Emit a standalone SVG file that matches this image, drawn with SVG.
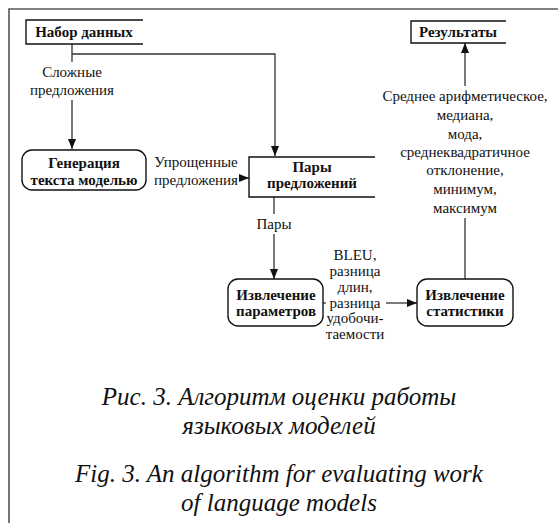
<svg xmlns="http://www.w3.org/2000/svg" width="558" height="525" viewBox="0 0 558 525" font-family="Liberation Serif, Times New Roman, serif">
<defs>
<marker id="ah" viewBox="0 0 10 8" refX="10" refY="4" markerWidth="10" markerHeight="8" markerUnits="userSpaceOnUse" orient="auto">
<path d="M0,0 L10,4 L0,8 Z" fill="#111"/>
</marker>
<style>
.frame{fill:none;stroke:#555;stroke-width:1.6}
.box{fill:#fff;stroke:#111;stroke-width:1.4}
.store{fill:none;stroke:#111;stroke-width:1.4}
.conn{fill:none;stroke:#333;stroke-width:1.3}
text{fill:#111;text-anchor:middle}
.b{font-weight:bold;font-size:15px}
.t{font-size:15px}
.cap{font-style:italic;font-size:25px}
</style>
</defs>
<rect width="558" height="525" fill="#fff"/>
<path class="frame" d="M558,9 H9 V523"/>

<g id="connectors">
<path class="conn" d="M72,44 V62"/>
<path class="conn" d="M72,100 V149" marker-end="url(#ah)"/>
<path class="conn" d="M72,54 H275 V156" marker-end="url(#ah)"/>
<path class="conn" d="M241,178 H249" marker-end="url(#ah)"/>
<path class="conn" d="M274,197 V214"/>
<path class="conn" d="M274,234 V279" marker-end="url(#ah)"/>
<path class="conn" d="M323,303 H326"/>
<path class="conn" d="M386,303 H417" marker-end="url(#ah)"/>
<path class="conn" d="M465,279 V218"/>
<path class="conn" d="M465,86 V43" marker-end="url(#ah)"/>
<text class="t" x="72" y="77">Сложные</text>
<text class="t" x="72" y="95">предложения</text>
<text class="t" x="196" y="167">Упрощенные</text>
<text class="t" x="196" y="185">предложения</text>
<text class="t" x="274" y="229">Пары</text>
<text class="t" x="355" y="260">BLEU,</text>
<text class="t" x="355" y="276">разница</text>
<text class="t" x="355" y="292">длин,</text>
<text class="t" x="355" y="308">разница</text>
<text class="t" x="355" y="323">удобочи-</text>
<text class="t" x="355" y="339">таемости</text>
<text class="t" x="465" y="101">Среднее арифметическое,</text>
<text class="t" x="465" y="120">медиана,</text>
<text class="t" x="465" y="139">мода,</text>
<text class="t" x="465" y="157">среднеквадратичное</text>
<text class="t" x="465" y="175">отклонение,</text>
<text class="t" x="465" y="194">минимум,</text>
<text class="t" x="465" y="213">максимум</text>
</g>

<g id="dataset">
<path class="store" d="M143,20 H26 V44 H143"/>
<text class="b" x="84" y="37">Набор данных</text>
</g>

<g id="results">
<path class="store" d="M506,21 H411 V43 H506"/>
<text class="b" x="458" y="37">Результаты</text>
</g>

<g id="generation">
<rect class="box" x="22" y="150" width="124" height="40" rx="10"/>
<text class="b" x="84" y="168">Генерация</text>
<text class="b" x="84" y="185">текста моделью</text>
</g>

<g id="pairs">
<path class="store" d="M375,157 H249 V197 H375"/>
<text class="b" x="312" y="172">Пары</text>
<text class="b" x="312" y="188">предложений</text>
</g>

<g id="params">
<rect class="box" x="228" y="279" width="95" height="47" rx="10"/>
<text class="b" x="276" y="300">Извлечение</text>
<text class="b" x="276" y="316">параметров</text>
</g>

<g id="stats">
<rect class="box" x="417" y="279" width="96" height="47" rx="10"/>
<text class="b" x="465" y="300">Извлечение</text>
<text class="b" x="465" y="316">статистики</text>
</g>

<g id="caption">
<text class="cap" x="279" y="405">Рис. 3. Алгоритм оценки работы</text>
<text class="cap" x="279" y="434">языковых моделей</text>
<text class="cap" x="279" y="482">Fig. 3. An algorithm for evaluating work</text>
<text class="cap" x="279" y="511">of language models</text>
</g>
</svg>
